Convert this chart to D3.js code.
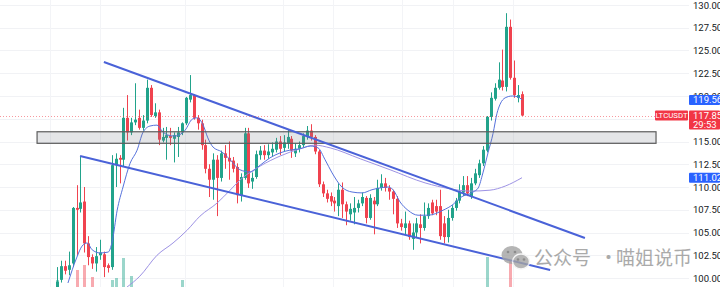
<!DOCTYPE html>
<html>
<head>
<meta charset="utf-8">
<script src="https://cdn.jsdelivr.net/npm/d3@7"></script>
<style>
  html, body { margin: 0; padding: 0; background: #fff; }
  #chart { width: 720px; height: 287px; overflow: hidden; }
  .axis text { font-family: Roboto, 'Liberation Sans', sans-serif; font-size: 9.5px; fill: #131722; }
  .tag text { font-family: Roboto, 'Liberation Sans', sans-serif; font-size: 9.5px; fill: #fff; }
  .tag text.small { font-size: 7.8px; }
</style>
</head>
<body>
<div id="chart"></div>
<script>
// price axis
const priceTicks = [100, 102.5, 105, 107.5, 110, 112.5, 115, 117.5, 120, 122.5, 125, 127.5, 130];

// candles: [open, high, low, close]
const ohlc = [
  [98.9, 101.2, 98.6, 99.6], [99.8, 101.9, 99.5, 101.3], [101.3, 101.9, 100.4, 100.8], [100.9, 102.9, 100.3, 101.4],
  [101.6, 107.8, 101.2, 107.7], [107.7, 110.2, 102.5, 107.5], [107.6, 113.3, 107.2, 108.3], [108.4, 110.0, 102.8, 103.8],
  [103.8, 104.6, 101.4, 102.3], [102.3, 102.6, 101.0, 101.6], [101.6, 103.4, 100.7, 102.4], [102.5, 104.2, 102.0, 102.8],
  [102.6, 102.9, 100.1, 101.2], [101.4, 101.6, 100.6, 101.1], [101.2, 113.5, 100.9, 112.4], [112.4, 113.7, 110.0, 113.1],
  [113.2, 113.5, 110.4, 113.0], [113.0, 118.7, 112.2, 117.6], [117.6, 120.1, 115.1, 116.0], [116.0, 117.6, 115.7, 117.1],
  [117.1, 121.4, 116.8, 117.4], [117.6, 118.5, 116.3, 116.5], [116.5, 117.9, 116.2, 117.3], [117.3, 121.8, 117.0, 120.9],
  [120.9, 121.2, 117.7, 117.9], [117.8, 119.2, 117.6, 118.2], [118.2, 118.5, 114.6, 115.2], [115.1, 116.5, 114.9, 115.5],
  [115.4, 116.6, 113.0, 115.7], [115.6, 116.5, 114.6, 115.4], [115.3, 116.0, 112.7, 115.7], [115.5, 116.6, 113.3, 116.0],
  [116.0, 117.1, 115.7, 117.0], [117.0, 119.9, 116.8, 119.8], [119.6, 122.3, 119.3, 120.1], [120.1, 120.2, 117.4, 117.6],
  [117.6, 117.9, 116.3, 117.0], [117.0, 117.4, 114.1, 114.6], [114.6, 115.2, 111.5, 112.0], [112.0, 112.5, 108.9, 110.8],
  [110.8, 113.7, 108.6, 113.0], [113.0, 113.5, 106.8, 111.0], [111.0, 114.0, 110.6, 113.7], [113.7, 114.6, 112.0, 113.2],
  [113.2, 115.0, 110.8, 112.8], [112.9, 113.3, 111.6, 112.0], [112.2, 112.6, 108.2, 109.1], [109.1, 111.5, 108.4, 111.1],
  [111.0, 116.5, 110.8, 115.9], [115.9, 116.5, 109.9, 110.4], [110.6, 111.6, 109.8, 111.0], [111.1, 114.0, 110.9, 113.6],
  [113.5, 114.5, 113.0, 114.0], [114.0, 114.6, 113.0, 113.5], [113.5, 114.7, 113.1, 113.9], [113.8, 114.9, 113.4, 114.2],
  [114.1, 115.4, 113.8, 115.0], [115.0, 115.6, 113.5, 114.2], [114.3, 115.7, 113.9, 114.9], [114.8, 116.3, 114.2, 115.5],
  [115.3, 115.6, 113.2, 114.0], [113.7, 114.8, 113.3, 114.2], [114.2, 115.0, 113.8, 114.6], [114.6, 115.9, 114.3, 115.6],
  [115.6, 116.7, 115.2, 116.2], [116.2, 116.9, 115.1, 115.5], [115.5, 115.7, 113.6, 113.9], [113.9, 114.1, 110.0, 110.3],
  [110.3, 110.6, 108.9, 109.3], [109.3, 109.7, 108.3, 108.7], [109.0, 109.4, 107.9, 108.4], [108.5, 108.9, 107.3, 108.2],
  [107.9, 110.4, 106.8, 109.7], [109.7, 110.5, 106.6, 108.1], [108.1, 108.4, 105.8, 107.3], [107.0, 108.2, 106.3, 107.6],
  [107.2, 108.9, 105.9, 107.7], [107.7, 108.6, 107.2, 108.2], [108.2, 109.4, 107.9, 108.9], [108.8, 109.0, 106.0, 106.6],
  [106.6, 109.2, 106.4, 108.8], [108.5, 108.9, 104.8, 108.1], [108.1, 110.8, 107.9, 109.9], [109.9, 111.4, 109.6, 110.4],
  [110.4, 111.0, 109.5, 109.9], [109.9, 110.2, 108.6, 109.5], [109.5, 109.7, 107.0, 108.7], [108.7, 109.0, 105.5, 106.0],
  [106.0, 106.5, 105.2, 105.6], [105.5, 107.3, 104.8, 106.0], [106.0, 106.3, 104.2, 104.5], [104.3, 106.0, 103.1, 105.0],
  [105.0, 106.6, 104.5, 106.0], [105.9, 107.0, 103.8, 105.5], [105.5, 108.3, 105.2, 106.8], [106.8, 108.2, 106.5, 107.7],
  [108.3, 108.6, 106.9, 107.1], [107.9, 108.6, 106.9, 107.3], [107.9, 109.7, 104.2, 104.6], [106.0, 106.8, 103.8, 104.5],
  [104.5, 107.5, 103.9, 106.6], [106.6, 108.0, 106.3, 107.7], [107.7, 108.8, 107.4, 108.5], [108.5, 110.3, 108.2, 109.5],
  [109.4, 111.2, 109.0, 110.2], [110.2, 111.2, 109.0, 109.3], [108.9, 111.0, 108.7, 110.4], [110.4, 112.0, 110.2, 111.5],
  [111.3, 113.0, 111.0, 112.6], [112.6, 114.5, 112.3, 114.1], [114.0, 117.8, 113.8, 117.7], [117.7, 120.4, 117.3, 119.8],
  [119.7, 121.4, 119.5, 120.9], [120.9, 123.7, 120.7, 121.8], [121.7, 125.1, 120.6, 121.0], [121.0, 129.1, 120.5, 127.6],
  [127.6, 128.4, 121.8, 122.0], [122.0, 123.9, 119.8, 120.1], [119.8, 121.2, 119.3, 120.1], [120.2, 120.5, 117.8, 117.851]
];

// volume: [candle index, volume, 1 = up / 0 = down]
const volumes = [
  [0, 7, 1], [5, 17, 0], [7, 22, 0], [9, 10, 0], [14, 7, 1], [15, 9, 1],
  [17, 29, 1], [19, 11, 1], [32, 7, 1], [110, 30, 1], [116, 27, 0]
];

// moving averages: [candle index, value]
const maFast = [
  [2.8, 99.45], [5.1, 102.3], [6.4, 103.5], [7.7, 103.85], [9, 103.1], [11, 102.75], [13.1, 102.85],
  [14.1, 103.95], [15.4, 107.45], [16.9, 110.0], [18.7, 112.6], [20.5, 114.05], [22, 116.0], [23.8, 116.7],
  [25.6, 116.8], [26.9, 116.15], [28.4, 115.7], [30.2, 115.6], [32.8, 116.25], [34.6, 117.45], [35.8, 117.6],
  [37.4, 116.8], [38.6, 115.4], [39.9, 114.4], [42.2, 113.85], [44.3, 113.0], [46.8, 111.9], [49.4, 111.65],
  [52, 112.4], [54.5, 113.2], [57.1, 113.75], [59.6, 114.05], [62.2, 114.2], [64.8, 114.5], [66.8, 114.3],
  [68.6, 113.0], [70.4, 111.55], [72.9, 110.0], [75.5, 109.45], [78.1, 109.35], [80.6, 109.7], [82.7, 109.9],
  [84.7, 110.0], [86, 109.7], [87.8, 108.35], [89.8, 107.45], [92.4, 106.9], [95, 106.9], [98.8, 107.45],
  [101.4, 108.1], [103.1, 108.8], [106.5, 109.45], [107.8, 109.9], [109, 111.55], [110.3, 113.75],
  [111.6, 115.9], [112.6, 118.1], [113.4, 119.1], [114.7, 119.8], [116.5, 120.0], [118, 119.9], [119, 119.563]
];
const maSlow = [
  [17.9, 99.0], [21.2, 100.2], [25.6, 102.5], [29.7, 103.85], [33.3, 105.25], [36.6, 106.8], [41, 108.25],
  [44.3, 109.65], [46.8, 110.75], [52, 112.3], [57.1, 113.4], [62.2, 114.2], [66, 114.6], [69.9, 114.3],
  [77.6, 113.1], [85.2, 111.9], [94.2, 110.45], [100.6, 109.8], [105.7, 109.55], [110.8, 109.65],
  [114.7, 110.1], [119, 111.02]
];

// drawings: [candle index, price]
const trendUpper = [[12.0, 123.74], [135.1, 104.4]];
const trendLower = [[5.9, 113.4], [126.2, 100.88]];
const zoneIndex = [-5.1, 153.3];
const zonePrice = [114.8, 116.07];
const timeGrid = [-1.8, 11, 32.8, 57.8, 70.6, 88.3, 101.4, 116.7];

const symbol = 'LTCUSDT';
const lastPrice = 117.851;
const countdown = '29:53';
const fastLast = 119.563;
const slowLast = 111.020;

const width = 720;
const height = 287;
const plotRight = 689;

const UP = '#22a38b';
const DOWN = '#f0434f';

const fmt = d3.format('.3f');

function generateScales() {
  return {
    x: d3.scaleLinear().domain([0, ohlc.length - 1]).range([57, 522]),
    y: d3.scaleLinear().domain([100, 130]).range([278, 5]),
    yVol: d3.scaleLinear().domain([0, 100]).range([287, 187])
  };
}

function drawGrid(svg, s) {
  const grid = svg.append('g').attr('class', 'grid');
  grid.selectAll('line.h')
    .data(priceTicks)
    .join('line')
    .attr('class', 'h')
    .attr('x1', 0).attr('x2', plotRight)
    .attr('y1', (d) => Math.round(s.y(d)) + 0.5)
    .attr('y2', (d) => Math.round(s.y(d)) + 0.5)
    .attr('stroke', '#f1f2f5');
  grid.selectAll('line.v')
    .data(timeGrid)
    .join('line')
    .attr('class', 'v')
    .attr('x1', (d) => Math.round(s.x(d)) + 0.5)
    .attr('x2', (d) => Math.round(s.x(d)) + 0.5)
    .attr('y1', 0).attr('y2', height)
    .attr('stroke', '#f3f4f7');
}

function drawVolume(svg, s) {
  svg.append('g')
    .selectAll('rect')
    .data(volumes)
    .join('rect')
    .attr('x', (d) => Math.round(s.x(d[0])) - 1)
    .attr('width', 3)
    .attr('y', (d) => s.yVol(d[1]))
    .attr('height', (d) => s.yVol(0) - s.yVol(d[1]))
    .attr('fill', (d) => (d[2] ? UP : DOWN))
    .attr('opacity', 0.45);
}

function drawCandles(svg, s) {
  const candle = svg.append('g')
    .attr('class', 'candles')
    .selectAll('g')
    .data(ohlc)
    .join('g')
    .attr('fill', (d) => (d[3] >= d[0] ? UP : DOWN))
    .attr('stroke', (d) => (d[3] >= d[0] ? UP : DOWN));

  candle.append('line')
    .attr('x1', (d, i) => Math.round(s.x(i)) + 0.5)
    .attr('x2', (d, i) => Math.round(s.x(i)) + 0.5)
    .attr('y1', (d) => s.y(d[1]))
    .attr('y2', (d) => s.y(d[2]))
    .attr('stroke-width', 1);

  candle.append('rect')
    .attr('stroke', 'none')
    .attr('x', (d, i) => Math.round(s.x(i)) - 1)
    .attr('width', 3)
    .attr('y', (d) => s.y(Math.max(d[0], d[3])))
    .attr('height', (d) => Math.max(1, Math.abs(s.y(d[0]) - s.y(d[3]))));
}

function drawAverages(svg, s) {
  const line = d3.line()
    .x((d) => s.x(d[0]))
    .y((d) => s.y(d[1]))
    .curve(d3.curveMonotoneX);

  svg.append('path')
    .datum(maSlow)
    .attr('d', line)
    .attr('fill', 'none')
    .attr('stroke', '#9d92e4')
    .attr('stroke-width', 1);

  svg.append('path')
    .datum(maFast)
    .attr('d', line)
    .attr('fill', 'none')
    .attr('stroke', '#5672dc')
    .attr('stroke-width', 1);
}

function drawDrawings(svg, s) {
  svg.append('rect')
    .attr('x', s.x(zoneIndex[0]))
    .attr('width', s.x(zoneIndex[1]) - s.x(zoneIndex[0]))
    .attr('y', s.y(zonePrice[1]))
    .attr('height', s.y(zonePrice[0]) - s.y(zonePrice[1]))
    .attr('fill', 'rgba(120,123,134,0.2)')
    .attr('stroke', '#5d5d5d')
    .attr('stroke-width', 1.2);

  svg.selectAll('line.trend')
    .data([trendUpper, trendLower])
    .join('line')
    .attr('class', 'trend')
    .attr('x1', (d) => s.x(d[0][0]))
    .attr('y1', (d) => s.y(d[0][1]))
    .attr('x2', (d) => s.x(d[1][0]))
    .attr('y2', (d) => s.y(d[1][1]))
    .attr('stroke', '#4a62d8')
    .attr('stroke-width', 2);

  // last price line
  svg.append('line')
    .attr('x1', 0).attr('x2', plotRight)
    .attr('y1', Math.round(s.y(lastPrice)) + 0.5)
    .attr('y2', Math.round(s.y(lastPrice)) + 0.5)
    .attr('stroke', '#f0434f')
    .attr('stroke-opacity', 0.55)
    .attr('stroke-dasharray', '1 2');
}

function drawAxis(svg, s) {
  svg.append('g')
    .attr('class', 'axis')
    .attr('transform', `translate(${plotRight}, 0)`)
    .call(d3.axisRight(s.y).tickValues(priceTicks).tickFormat(fmt).tickSize(0).tickPadding(4))
    .call((g) => g.select('.domain').remove());
}

function tag(svg, x, y, w, h, color, lines, small) {
  const g = svg.append('g').attr('class', 'tag');
  g.append('rect')
    .attr('x', x).attr('y', y)
    .attr('width', w).attr('height', h)
    .attr('rx', 1)
    .attr('fill', color);
  g.selectAll('text')
    .data(lines)
    .join('text')
    .attr('class', small ? 'small' : null)
    .attr('x', small ? x + w / 2 : x + 4)
    .attr('y', (d, i) => y + 5 + i * 9)
    .attr('dy', '0.35em')
    .attr('text-anchor', small ? 'middle' : 'start')
    .text((d) => d);
}

function drawTags(svg, s) {
  tag(svg, plotRight, s.y(fastLast) - 5, 31, 10, '#2962ff', [fmt(fastLast)]);
  tag(svg, plotRight, s.y(slowLast) - 5, 31, 10, '#2962ff', [fmt(slowLast)]);
  tag(svg, plotRight, s.y(lastPrice) - 5, 31, 19, '#f23645', [fmt(lastPrice), countdown]);
  tag(svg, 655, s.y(lastPrice) - 5, 33, 10, '#f23645', [symbol], true);
}

function drawWatermark(svg) {
  const g = svg.append('g').attr('opacity', 0.8);
  // wechat bubbles
  g.append('ellipse').attr('cx', 512).attr('cy', 255).attr('rx', 10.5).attr('ry', 9).attr('fill', '#a3a3a3');
  g.append('ellipse').attr('cx', 521).attr('cy', 261.5).attr('rx', 8.5).attr('ry', 7.5)
    .attr('fill', '#a3a3a3').attr('stroke', '#f4f4f4').attr('stroke-width', 1.5);
  [[508, 252], [515, 252], [518, 259.5], [524, 259.5]].forEach(([cx, cy]) => {
    g.append('circle').attr('cx', cx).attr('cy', cy).attr('r', 1.3).attr('fill', '#707070');
  });

  const text = g.append('g')
    .attr('font-family', "'Noto Sans CJK SC', sans-serif")
    .attr('font-size', 19)
    .attr('fill', '#969696');
  text.append('text').attr('x', 534).attr('y', 265).text('公众号');
  text.append('text').attr('x', 599).attr('y', 265).text('·');
  text.append('text').attr('x', 616).attr('y', 265).text('喵姐说币');
}

const scales = generateScales();
const svg = d3.select('#chart')
  .append('svg')
  .attr('width', width)
  .attr('height', height);

drawGrid(svg, scales);
drawVolume(svg, scales);
drawCandles(svg, scales);
drawAverages(svg, scales);
drawDrawings(svg, scales);
drawAxis(svg, scales);
drawTags(svg, scales);
drawWatermark(svg);
</script>
</body>
</html>
